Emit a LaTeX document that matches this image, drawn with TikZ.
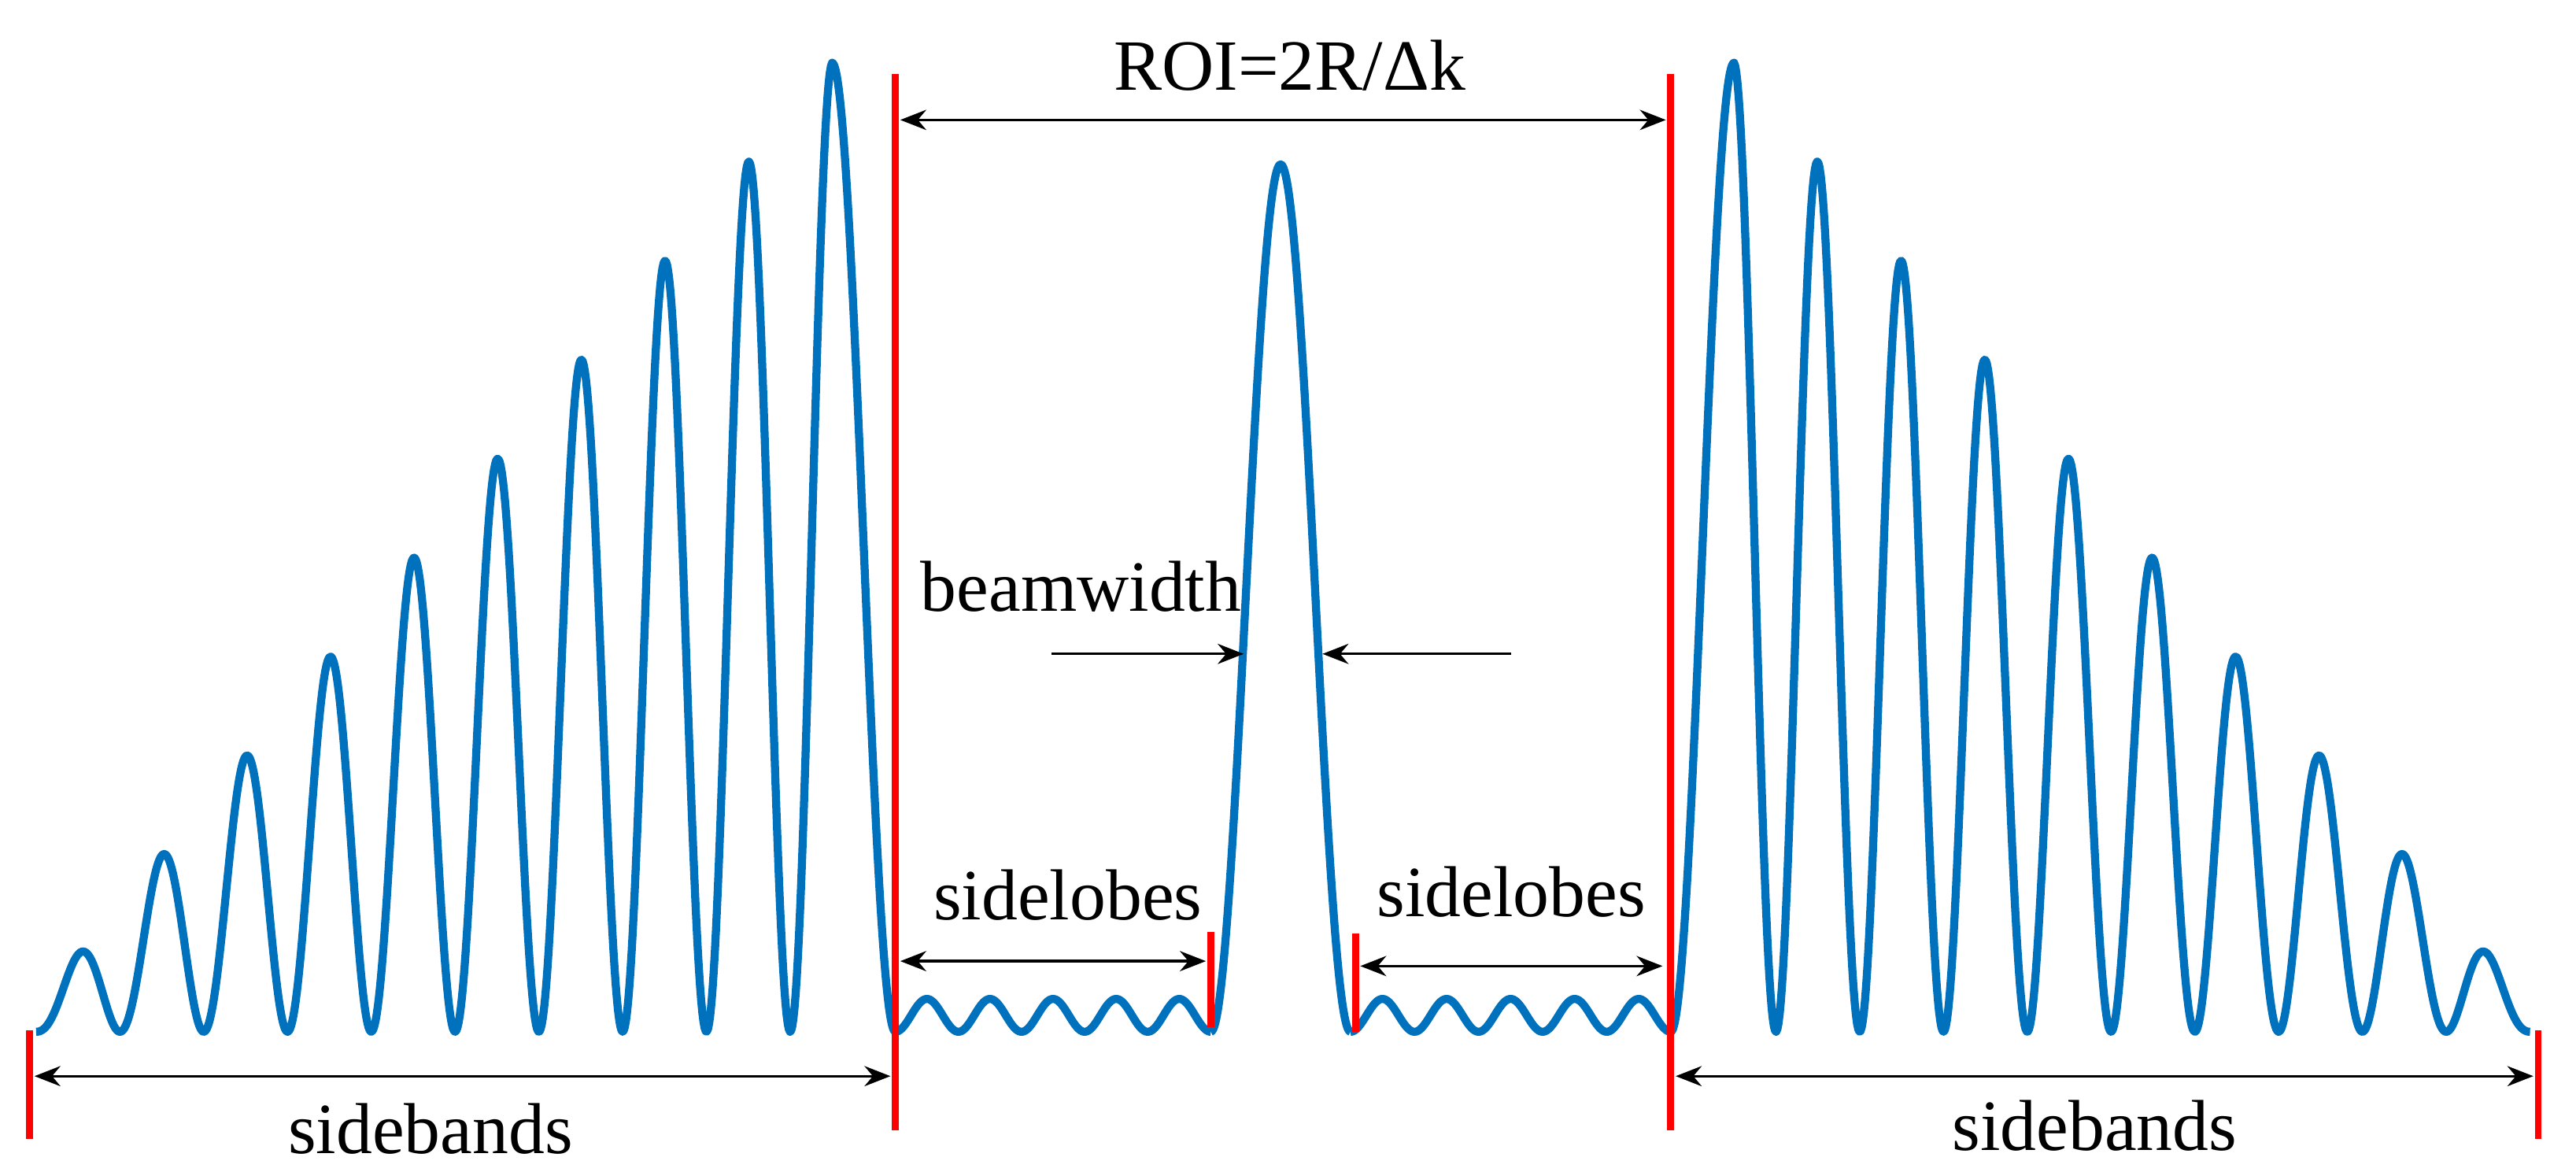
\documentclass[tikz,border=0pt]{standalone}
\usepackage{fontspec}
\setmainfont{Liberation Serif}
\usetikzlibrary{arrows.meta}
\definecolor{cblue}{RGB}{0,114,189}
\tikzset{curve/.style={cblue,line width=2.8pt,line join=round},
 redl/.style={red,line width=2.4pt},
 dim/.style={black,line width=0.9pt,{Stealth[length=9pt,width=7pt]}-{Stealth[length=9pt,width=7pt]}},
 one/.style={black,line width=0.9pt,-{Stealth[length=9pt,width=7pt]}},
 lab/.style={font=\fontsize{25}{30}\selectfont,inner sep=0pt}}
\begin{document}
\begin{tikzpicture}[x=0.02cm,y=0.02cm]
\useasboundingbox (0,0) rectangle (1568,713);
% curves
\draw[curve] plot[domain=22:506.5,samples=700] (\x,{85+(50+(\x-50)*1.1824)*(1-cos(7.0588*(\x-22)))/2})
  -- plot[domain=506.5:545,samples=60] (\x,{85+589.8*(1+cos(4.6753*(\x-506.5)))/2});
\draw[curve] plot[domain=1017:1055.5,samples=60] (\x,{85+589.8*(1+cos(4.6753*(1055.5-\x)))/2})
  -- plot[domain=1055.5:1540,samples=700] (\x,{85+(50+((1562-\x)-50)*1.1824)*(1-cos(7.0588*((1562-\x)-22)))/2});
\draw[curve] plot[domain=545:737,samples=200] (\x,{85+20*(1-cos(9.375*(\x-545)))/2});
\draw[curve] plot[domain=822:1017,samples=200] (\x,{85+20*(1-cos(9.2308*(\x-822)))/2});
\draw[curve] plot[domain=737:822,samples=120] (\x,{85+528*(1-cos(4.2353*(\x-737)))/2});
% red lines
\draw[redl] (545,668) -- (545,25);
\draw[redl] (1017,668) -- (1017,25);
\draw[redl] (737,146) -- (737,88);
\draw[redl] (825,145) -- (825,85);
\draw[redl] (18,86) -- (18,20);
\draw[redl] (1545,86) -- (1545,20);
% coordinates
\coordinate (roiL) at (548,640); \coordinate (roiR) at (1014,640);
\coordinate (slL1) at (548,128); \coordinate (slR1) at (734,128);
\coordinate (slL2) at (828,125); \coordinate (slR2) at (1012,125);
\coordinate (sbL1) at (21,58); \coordinate (sbR1) at (542,58);
\coordinate (sbL2) at (1020,58); \coordinate (sbR2) at (1542,58);
\coordinate (bwA) at (640,315); \coordinate (bwB) at (757,315);
\coordinate (bwC) at (920,315); \coordinate (bwD) at (805,315);
\draw[dim] (roiL) -- (roiR);
\draw[dim] (slL1) -- (slR1);
\draw[dim] (slL2) -- (slR2);
\draw[dim] (sbL1) -- (sbR1);
\draw[dim] (sbL2) -- (sbR2);
\draw[one] (bwA) -- (bwB);
\draw[one] (bwC) -- (bwD);
% labels
\node[lab] (roi) at (785,673) {ROI=2R/Δk};
\node[lab] (bw) at (658,356) {beamwidth};
\node[lab] (sl1) at (650,168) {sidelobes};
\node[lab] (sl2) at (920,170) {sidelobes};
\node[lab] (sb1) at (262,26) {sidebands};
\node[lab] (sb2) at (1275,28) {sidebands};
\end{tikzpicture}
\end{document}
